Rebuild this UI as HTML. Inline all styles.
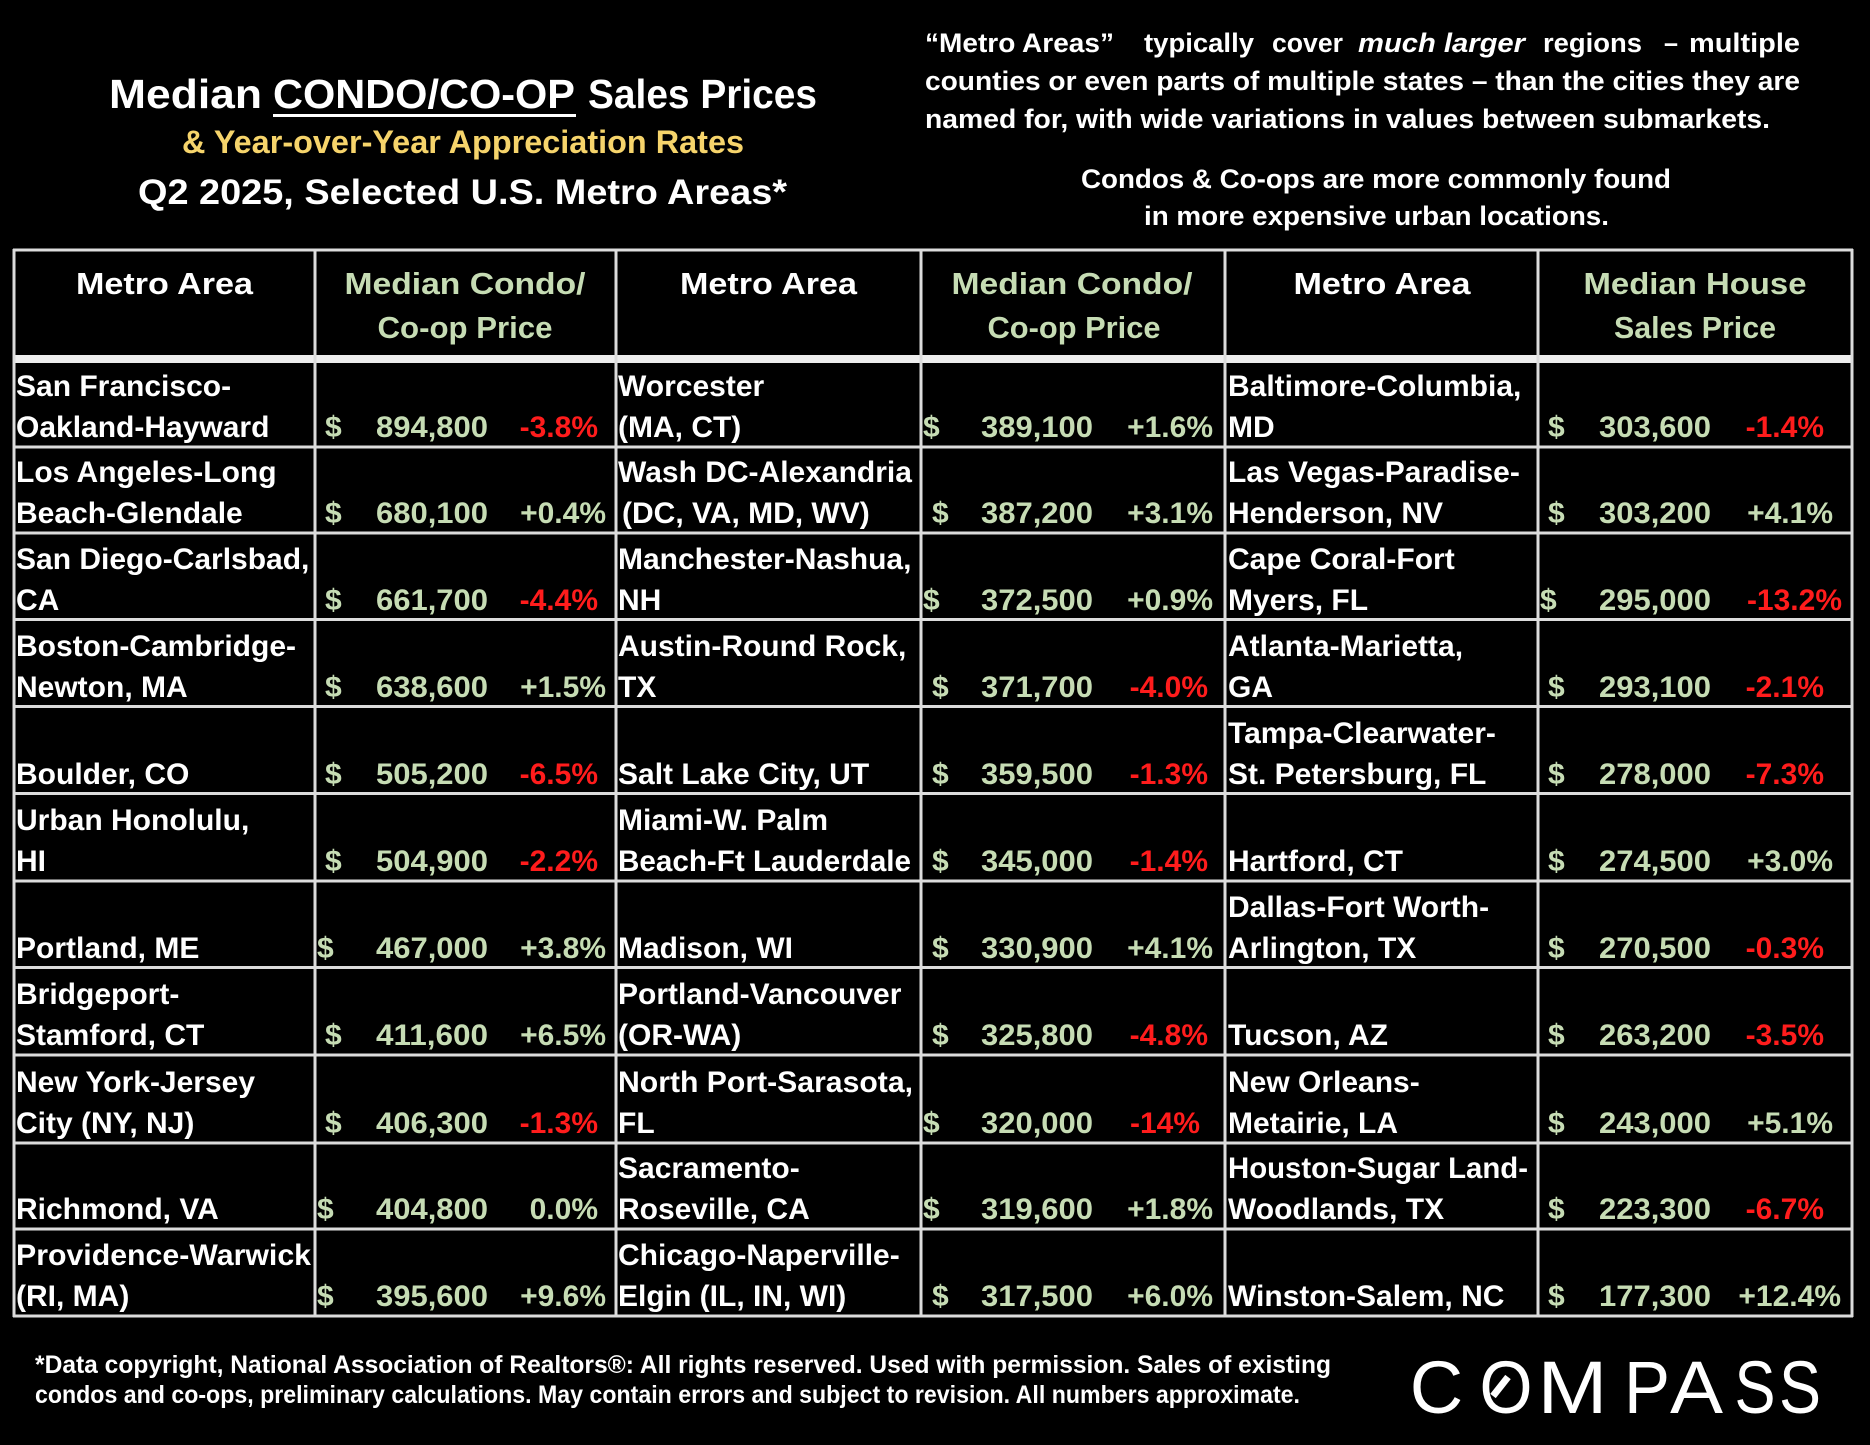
<!DOCTYPE html>
<html>
<head>
<meta charset="utf-8">
<style>
html,body{margin:0;padding:0;background:#000;}
svg{display:block;}
.w{fill:#ffffff;}
.g{fill:#c6dcb4;}
.r{fill:#ff1c1c;}
.y{fill:#f6d46b;}
.d{font-size:30px;}
.h{font-size:31px;}
</style>
</head>
<body>
<svg width="1870" height="1445" viewBox="0 0 1870 1445" xmlns="http://www.w3.org/2000/svg" font-family="'Liberation Sans', Arial, sans-serif" font-weight="bold">
<rect x="0" y="0" width="1870" height="1445" fill="#000"/>

<!-- Title block -->
<text class="w" x="109" y="108" font-size="41" textLength="153" lengthAdjust="spacingAndGlyphs">Median</text>
<text class="w" x="273" y="108" font-size="41" textLength="302" lengthAdjust="spacingAndGlyphs">CONDO/CO-OP</text>
<text class="w" x="588" y="108" font-size="41" textLength="229" lengthAdjust="spacingAndGlyphs">Sales Prices</text>
<rect x="273" y="114" width="303" height="3" fill="#fff"/>
<text class="y" x="182" y="153" font-size="32" textLength="562" lengthAdjust="spacingAndGlyphs">&amp; Year-over-Year Appreciation Rates</text>
<text class="w" x="138" y="204" font-size="35" textLength="649" lengthAdjust="spacingAndGlyphs">Q2 2025, Selected U.S. Metro Areas*</text>

<!-- Right note -->
<g class="w" font-size="27">
<text x="925" y="52" textLength="189" lengthAdjust="spacingAndGlyphs">“Metro Areas”</text>
<text x="1144" y="52" textLength="110" lengthAdjust="spacingAndGlyphs">typically</text>
<text x="1272" y="52" textLength="71" lengthAdjust="spacingAndGlyphs">cover</text>
<text x="1358" y="52" font-style="italic" textLength="167" lengthAdjust="spacingAndGlyphs">much larger</text>
<text x="1543" y="52" textLength="99" lengthAdjust="spacingAndGlyphs">regions</text>
<text x="1664" y="52" textLength="14" lengthAdjust="spacingAndGlyphs">–</text>
<text x="1689" y="52" textLength="111" lengthAdjust="spacingAndGlyphs">multiple</text>
<text x="925" y="90" textLength="875" lengthAdjust="spacingAndGlyphs">counties or even parts of multiple states – than the cities they are</text>
<text x="925" y="128" textLength="845" lengthAdjust="spacingAndGlyphs">named for, with wide variations in values between submarkets.</text>
<text x="1081" y="188" textLength="590" lengthAdjust="spacingAndGlyphs">Condos &amp; Co-ops are more commonly found</text>
<text x="1144" y="225" textLength="465" lengthAdjust="spacingAndGlyphs">in more expensive urban locations.</text>
</g>

<!-- Table grid -->
<rect x="14" y="355" width="1838" height="8" fill="#eeeeee"/>
<g stroke="#dcdcdc" stroke-width="3">
<line x1="13" y1="250" x2="1853" y2="250"/>
<line x1="13" y1="447" x2="1853" y2="447"/>
<line x1="13" y1="533" x2="1853" y2="533"/>
<line x1="13" y1="619.5" x2="1853" y2="619.5"/>
<line x1="13" y1="706.5" x2="1853" y2="706.5"/>
<line x1="13" y1="793.5" x2="1853" y2="793.5"/>
<line x1="13" y1="881" x2="1853" y2="881"/>
<line x1="13" y1="967.5" x2="1853" y2="967.5"/>
<line x1="13" y1="1055" x2="1853" y2="1055"/>
<line x1="13" y1="1143" x2="1853" y2="1143"/>
<line x1="13" y1="1229" x2="1853" y2="1229"/>
<line x1="13" y1="1316" x2="1853" y2="1316"/>
<line x1="14" y1="249" x2="14" y2="1317"/>
<line x1="315" y1="249" x2="315" y2="1317"/>
<line x1="616" y1="249" x2="616" y2="1317"/>
<line x1="921" y1="249" x2="921" y2="1317"/>
<line x1="1225" y1="249" x2="1225" y2="1317"/>
<line x1="1538" y1="249" x2="1538" y2="1317"/>
<line x1="1852" y1="249" x2="1852" y2="1317"/>
</g>

<!-- Headers -->
<g class="h" text-anchor="middle">
<text class="w" x="164.5" y="294" textLength="177" lengthAdjust="spacingAndGlyphs">Metro Area</text>
<text class="g" x="465" y="294" textLength="241" lengthAdjust="spacingAndGlyphs">Median Condo/</text>
<text class="g" x="465" y="338" textLength="175" lengthAdjust="spacingAndGlyphs">Co-op Price</text>
<text class="w" x="768.5" y="294" textLength="177" lengthAdjust="spacingAndGlyphs">Metro Area</text>
<text class="g" x="1072" y="294" textLength="241" lengthAdjust="spacingAndGlyphs">Median Condo/</text>
<text class="g" x="1074" y="338" textLength="173" lengthAdjust="spacingAndGlyphs">Co-op Price</text>
<text class="w" x="1382" y="294" textLength="177" lengthAdjust="spacingAndGlyphs">Metro Area</text>
<text class="g" x="1695" y="294" textLength="223" lengthAdjust="spacingAndGlyphs">Median House</text>
<text class="g" x="1695" y="338" textLength="162" lengthAdjust="spacingAndGlyphs">Sales Price</text>
</g>

<!-- Group 1 metro names -->
<g class="w d">
<text x="16" y="396">San Francisco-</text>
<text x="16" y="437">Oakland-Hayward</text>
<text x="16" y="482">Los Angeles-Long</text>
<text x="16" y="523">Beach-Glendale</text>
<text x="16" y="569">San Diego-Carlsbad,</text>
<text x="16" y="610">CA</text>
<text x="16" y="656">Boston-Cambridge-</text>
<text x="16" y="697">Newton, MA</text>
<text x="16" y="784">Boulder, CO</text>
<text x="16" y="830">Urban Honolulu,</text>
<text x="16" y="871">HI</text>
<text x="16" y="958">Portland, ME</text>
<text x="16" y="1004">Bridgeport-</text>
<text x="16" y="1045">Stamford, CT</text>
<text x="16" y="1092">New York-Jersey</text>
<text x="16" y="1133">City (NY, NJ)</text>
<text x="16" y="1219">Richmond, VA</text>
<text x="16" y="1265" textLength="295" lengthAdjust="spacingAndGlyphs">Providence-Warwick</text>
<text x="16" y="1306">(RI, MA)</text>
</g>

<!-- Group 1 prices -->
<g class="d">
<text class="g" x="325" y="437">$</text>
<text class="g" x="325" y="523">$</text>
<text class="g" x="325" y="610">$</text>
<text class="g" x="325" y="697">$</text>
<text class="g" x="325" y="784">$</text>
<text class="g" x="325" y="871">$</text>
<text class="g" x="317" y="958">$</text>
<text class="g" x="325" y="1045">$</text>
<text class="g" x="325" y="1133">$</text>
<text class="g" x="317" y="1219">$</text>
<text class="g" x="317" y="1306">$</text>
<g text-anchor="end" class="g">
<text x="488" y="437" textLength="112" lengthAdjust="spacingAndGlyphs">894,800</text>
<text x="488" y="523" textLength="112" lengthAdjust="spacingAndGlyphs">680,100</text>
<text x="488" y="610" textLength="112" lengthAdjust="spacingAndGlyphs">661,700</text>
<text x="488" y="697" textLength="112" lengthAdjust="spacingAndGlyphs">638,600</text>
<text x="488" y="784" textLength="112" lengthAdjust="spacingAndGlyphs">505,200</text>
<text x="488" y="871" textLength="112" lengthAdjust="spacingAndGlyphs">504,900</text>
<text x="488" y="958" textLength="112" lengthAdjust="spacingAndGlyphs">467,000</text>
<text x="488" y="1045" textLength="112" lengthAdjust="spacingAndGlyphs">411,600</text>
<text x="488" y="1133" textLength="112" lengthAdjust="spacingAndGlyphs">406,300</text>
<text x="488" y="1219" textLength="112" lengthAdjust="spacingAndGlyphs">404,800</text>
<text x="488" y="1306" textLength="112" lengthAdjust="spacingAndGlyphs">395,600</text>
</g>
<g text-anchor="end">
<text class="r" x="598" y="437">-3.8%</text>
<text class="g" x="606" y="523">+0.4%</text>
<text class="r" x="598" y="610">-4.4%</text>
<text class="g" x="606" y="697">+1.5%</text>
<text class="r" x="598" y="784">-6.5%</text>
<text class="r" x="598" y="871">-2.2%</text>
<text class="g" x="606" y="958">+3.8%</text>
<text class="g" x="606" y="1045">+6.5%</text>
<text class="r" x="598" y="1133">-1.3%</text>
<text class="g" x="598" y="1219">0.0%</text>
<text class="g" x="606" y="1306">+9.6%</text>
</g>
</g>

<!-- Group 2 metro names -->
<g class="w d">
<text x="618" y="396">Worcester</text>
<text x="618" y="437">(MA, CT)</text>
<text x="618" y="482">Wash DC-Alexandria</text>
<text x="622" y="523">(DC, VA, MD, WV)</text>
<text x="618" y="569">Manchester-Nashua,</text>
<text x="618" y="610">NH</text>
<text x="618" y="656">Austin-Round Rock,</text>
<text x="618" y="697">TX</text>
<text x="618" y="784">Salt Lake City, UT</text>
<text x="618" y="830">Miami-W. Palm</text>
<text x="618" y="871" textLength="293" lengthAdjust="spacingAndGlyphs">Beach-Ft Lauderdale</text>
<text x="618" y="958">Madison, WI</text>
<text x="618" y="1004">Portland-Vancouver</text>
<text x="618" y="1045">(OR-WA)</text>
<text x="618" y="1092" textLength="295" lengthAdjust="spacingAndGlyphs">North Port-Sarasota,</text>
<text x="618" y="1133">FL</text>
<text x="618" y="1178">Sacramento-</text>
<text x="618" y="1219">Roseville, CA</text>
<text x="618" y="1265">Chicago-Naperville-</text>
<text x="618" y="1306">Elgin (IL, IN, WI)</text>
</g>

<!-- Group 2 prices -->
<g class="d">
<text class="g" x="923" y="437">$</text>
<text class="g" x="932" y="523">$</text>
<text class="g" x="923" y="610">$</text>
<text class="g" x="932" y="697">$</text>
<text class="g" x="932" y="784">$</text>
<text class="g" x="932" y="871">$</text>
<text class="g" x="932" y="958">$</text>
<text class="g" x="932" y="1045">$</text>
<text class="g" x="923" y="1133">$</text>
<text class="g" x="923" y="1219">$</text>
<text class="g" x="932" y="1306">$</text>
<g text-anchor="end" class="g">
<text x="1093" y="437" textLength="112" lengthAdjust="spacingAndGlyphs">389,100</text>
<text x="1093" y="523" textLength="112" lengthAdjust="spacingAndGlyphs">387,200</text>
<text x="1093" y="610" textLength="112" lengthAdjust="spacingAndGlyphs">372,500</text>
<text x="1093" y="697" textLength="112" lengthAdjust="spacingAndGlyphs">371,700</text>
<text x="1093" y="784" textLength="112" lengthAdjust="spacingAndGlyphs">359,500</text>
<text x="1093" y="871" textLength="112" lengthAdjust="spacingAndGlyphs">345,000</text>
<text x="1093" y="958" textLength="112" lengthAdjust="spacingAndGlyphs">330,900</text>
<text x="1093" y="1045" textLength="112" lengthAdjust="spacingAndGlyphs">325,800</text>
<text x="1093" y="1133" textLength="112" lengthAdjust="spacingAndGlyphs">320,000</text>
<text x="1093" y="1219" textLength="112" lengthAdjust="spacingAndGlyphs">319,600</text>
<text x="1093" y="1306" textLength="112" lengthAdjust="spacingAndGlyphs">317,500</text>
</g>
<g text-anchor="end">
<text class="g" x="1213" y="437">+1.6%</text>
<text class="g" x="1213" y="523">+3.1%</text>
<text class="g" x="1213" y="610">+0.9%</text>
<text class="r" x="1208" y="697">-4.0%</text>
<text class="r" x="1208" y="784">-1.3%</text>
<text class="r" x="1208" y="871">-1.4%</text>
<text class="g" x="1213" y="958">+4.1%</text>
<text class="r" x="1208" y="1045">-4.8%</text>
<text class="r" x="1200" y="1133">-14%</text>
<text class="g" x="1213" y="1219">+1.8%</text>
<text class="g" x="1213" y="1306">+6.0%</text>
</g>
</g>

<!-- Group 3 metro names -->
<g class="w d">
<text x="1228" y="396">Baltimore-Columbia,</text>
<text x="1228" y="437">MD</text>
<text x="1228" y="482">Las Vegas-Paradise-</text>
<text x="1228" y="523">Henderson, NV</text>
<text x="1228" y="569">Cape Coral-Fort</text>
<text x="1228" y="610">Myers, FL</text>
<text x="1228" y="656">Atlanta-Marietta,</text>
<text x="1228" y="697">GA</text>
<text x="1228" y="743">Tampa-Clearwater-</text>
<text x="1228" y="784">St. Petersburg, FL</text>
<text x="1228" y="871">Hartford, CT</text>
<text x="1228" y="917">Dallas-Fort Worth-</text>
<text x="1228" y="958">Arlington, TX</text>
<text x="1228" y="1045">Tucson, AZ</text>
<text x="1228" y="1092">New Orleans-</text>
<text x="1228" y="1133">Metairie, LA</text>
<text x="1228" y="1178" textLength="300" lengthAdjust="spacingAndGlyphs">Houston-Sugar Land-</text>
<text x="1228" y="1219">Woodlands, TX</text>
<text x="1228" y="1306">Winston-Salem, NC</text>
</g>

<!-- Group 3 prices -->
<g class="d">
<text class="g" x="1548" y="437">$</text>
<text class="g" x="1548" y="523">$</text>
<text class="g" x="1540" y="610">$</text>
<text class="g" x="1548" y="697">$</text>
<text class="g" x="1548" y="784">$</text>
<text class="g" x="1548" y="871">$</text>
<text class="g" x="1548" y="958">$</text>
<text class="g" x="1548" y="1045">$</text>
<text class="g" x="1548" y="1133">$</text>
<text class="g" x="1548" y="1219">$</text>
<text class="g" x="1548" y="1306">$</text>
<g text-anchor="end" class="g">
<text x="1711" y="437" textLength="112" lengthAdjust="spacingAndGlyphs">303,600</text>
<text x="1711" y="523" textLength="112" lengthAdjust="spacingAndGlyphs">303,200</text>
<text x="1711" y="610" textLength="112" lengthAdjust="spacingAndGlyphs">295,000</text>
<text x="1711" y="697" textLength="112" lengthAdjust="spacingAndGlyphs">293,100</text>
<text x="1711" y="784" textLength="112" lengthAdjust="spacingAndGlyphs">278,000</text>
<text x="1711" y="871" textLength="112" lengthAdjust="spacingAndGlyphs">274,500</text>
<text x="1711" y="958" textLength="112" lengthAdjust="spacingAndGlyphs">270,500</text>
<text x="1711" y="1045" textLength="112" lengthAdjust="spacingAndGlyphs">263,200</text>
<text x="1711" y="1133" textLength="112" lengthAdjust="spacingAndGlyphs">243,000</text>
<text x="1711" y="1219" textLength="112" lengthAdjust="spacingAndGlyphs">223,300</text>
<text x="1711" y="1306" textLength="112" lengthAdjust="spacingAndGlyphs">177,300</text>
</g>
<g text-anchor="end">
<text class="r" x="1824" y="437">-1.4%</text>
<text class="g" x="1833" y="523">+4.1%</text>
<text class="r" x="1842" y="610">-13.2%</text>
<text class="r" x="1824" y="697">-2.1%</text>
<text class="r" x="1824" y="784">-7.3%</text>
<text class="g" x="1833" y="871">+3.0%</text>
<text class="r" x="1824" y="958">-0.3%</text>
<text class="r" x="1824" y="1045">-3.5%</text>
<text class="g" x="1833" y="1133">+5.1%</text>
<text class="r" x="1824" y="1219">-6.7%</text>
<text class="g" x="1841" y="1306">+12.4%</text>
</g>
</g>

<!-- Footer -->
<g class="w" font-size="25">
<text x="35" y="1373" textLength="1296" lengthAdjust="spacingAndGlyphs">*Data copyright, National Association of Realtors®: All rights reserved. Used with permission. Sales of existing</text>
<text x="35" y="1403" textLength="1265" lengthAdjust="spacingAndGlyphs">condos and co-ops, preliminary calculations. May contain errors and subject to revision. All numbers approximate.</text>
</g>

<!-- COMPASS logo -->
<g class="w" font-weight="normal" font-size="74" text-anchor="middle">
<text x="1436.5" y="1413">C</text>
<text x="1506" y="1413" textLength="53" lengthAdjust="spacingAndGlyphs">O</text>
<text x="1572.5" y="1413" textLength="70" lengthAdjust="spacingAndGlyphs">M</text>
<text x="1647" y="1413" textLength="46" lengthAdjust="spacingAndGlyphs">P</text>
<text x="1696.5" y="1413" textLength="53" lengthAdjust="spacingAndGlyphs">A</text>
<text x="1755" y="1413" textLength="41" lengthAdjust="spacingAndGlyphs">S</text>
<text x="1800" y="1413" textLength="42" lengthAdjust="spacingAndGlyphs">S</text>
</g>
<line x1="1493" y1="1396" x2="1508" y2="1377" stroke="#fff" stroke-width="7"/>
</svg>
</body>
</html>
